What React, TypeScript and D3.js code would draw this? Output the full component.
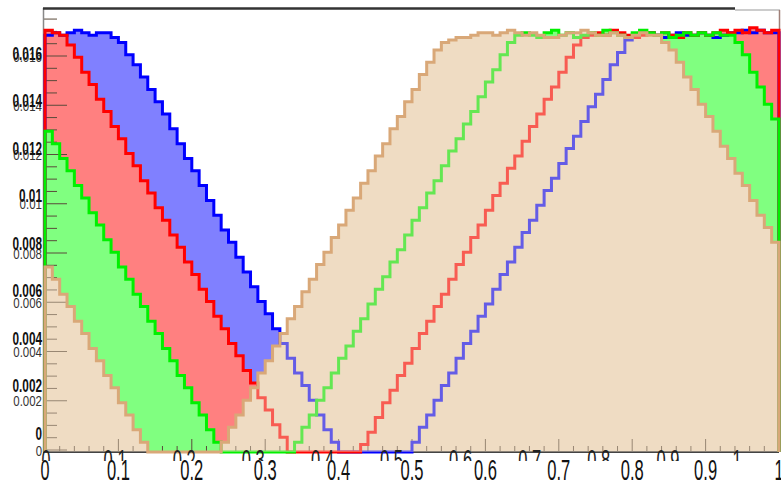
import React, { useEffect, useRef } from 'react'
import { select, scaleLinear, area, line, curveStepAfter, range } from 'd3'

// bin contents, 100 bins from 0 to 1
const blueBins = [
  0.0169, 0.0170, 0.0169, 0.0170, 0.0171, 0.0170, 0.0169, 0.0170, 0.0170, 0.0168,
  0.0166, 0.0161, 0.0157, 0.0152, 0.0147, 0.0142, 0.0137, 0.0131, 0.0125, 0.0119,
  0.0114, 0.0108, 0.0102, 0.0096, 0.0090, 0.0085, 0.0079, 0.0073, 0.0067, 0.0061,
  0.0056, 0.0050, 0.0044, 0.0038, 0.0032, 0.0027, 0.0021, 0.0015, 0.0009, 0.0004,
  0, 0, 0, 0, 0, 0, 0, 0, 0, 0,
  0.0004, 0.0010, 0.0015, 0.0021, 0.0027, 0.0032, 0.0038, 0.0044, 0.0049, 0.0055,
  0.0060, 0.0066, 0.0072, 0.0077, 0.0083, 0.0089, 0.0094, 0.0100, 0.0106, 0.0111,
  0.0117, 0.0123, 0.0128, 0.0134, 0.0140, 0.0145, 0.0151, 0.0157, 0.0162, 0.0167,
  0.0169, 0.0170, 0.0170, 0.0169, 0.0168, 0.0169, 0.0170, 0.0169, 0.0169, 0.0170,
  0.0169, 0.0168, 0.0169, 0.0170, 0.0170, 0.0171, 0.0170, 0.0171, 0.0170, 0.0170
]
const redBins = [
  0.0171, 0.0170, 0.0169, 0.0165, 0.0160, 0.0154, 0.0149, 0.0143, 0.0138, 0.0132,
  0.0127, 0.0121, 0.0116, 0.0110, 0.0105, 0.0099, 0.0094, 0.0088, 0.0083, 0.0077,
  0.0072, 0.0066, 0.0061, 0.0055, 0.0050, 0.0044, 0.0039, 0.0033, 0.0028, 0.0022,
  0.0017, 0.0011, 0.0006, 0, 0, 0, 0, 0, 0, 0,
  0, 0, 0, 0.0003, 0.0008, 0.0014, 0.0020, 0.0025, 0.0031, 0.0036,
  0.0042, 0.0048, 0.0053, 0.0059, 0.0064, 0.0070, 0.0076, 0.0081, 0.0087, 0.0092,
  0.0098, 0.0104, 0.0109, 0.0115, 0.0120, 0.0126, 0.0132, 0.0137, 0.0143, 0.0148,
  0.0154, 0.0160, 0.0165, 0.0168, 0.0169, 0.0170, 0.0169, 0.0171, 0.0170, 0.0169,
  0.0168, 0.0169, 0.0170, 0.0169, 0.0170, 0.0169, 0.0168, 0.0170, 0.0169, 0.0170,
  0.0169, 0.0170, 0.0171, 0.0170, 0.0171, 0.0170, 0.0172, 0.0171, 0.0170, 0.0171
]
const greenBins = [
  0.0130, 0.0125, 0.0119, 0.0114, 0.0108, 0.0103, 0.0097, 0.0092, 0.0086, 0.0081,
  0.0075, 0.0070, 0.0064, 0.0059, 0.0053, 0.0048, 0.0042, 0.0037, 0.0031, 0.0026,
  0.0020, 0.0015, 0.0009, 0.0004, 0, 0, 0, 0, 0, 0,
  0, 0, 0, 0, 0.0004, 0.0010, 0.0015, 0.0021, 0.0026, 0.0032,
  0.0038, 0.0043, 0.0049, 0.0054, 0.0060, 0.0066, 0.0071, 0.0077, 0.0082, 0.0088,
  0.0094, 0.0099, 0.0105, 0.0110, 0.0116, 0.0122, 0.0127, 0.0133, 0.0138, 0.0144,
  0.0150, 0.0155, 0.0161, 0.0166, 0.0169, 0.0170, 0.0169, 0.0168, 0.0170, 0.0171,
  0.0169, 0.0170, 0.0168, 0.0169, 0.0170, 0.0169, 0.0171, 0.0170, 0.0169, 0.0168,
  0.0170, 0.0171, 0.0170, 0.0169, 0.0170, 0.0168, 0.0169, 0.0170, 0.0169, 0.0170,
  0.0169, 0.0170, 0.0169, 0.0169, 0.0166, 0.0161, 0.0154, 0.0148, 0.0141, 0.0135
]
const tanBins = [
  0.0075, 0.0070, 0.0064, 0.0059, 0.0053, 0.0048, 0.0042, 0.0037, 0.0031, 0.0026,
  0.0020, 0.0015, 0.0009, 0.0004, 0, 0, 0, 0, 0, 0,
  0, 0, 0, 0, 0.0004, 0.0010, 0.0015, 0.0021, 0.0026, 0.0032,
  0.0037, 0.0043, 0.0048, 0.0054, 0.0059, 0.0065, 0.0070, 0.0076, 0.0081, 0.0087,
  0.0092, 0.0098, 0.0103, 0.0109, 0.0114, 0.0120, 0.0125, 0.0131, 0.0136, 0.0142,
  0.0147, 0.0153, 0.0158, 0.0163, 0.0166, 0.0167, 0.0168, 0.0168, 0.0169, 0.0170,
  0.0170, 0.0169, 0.0170, 0.0171, 0.0170, 0.0169, 0.0170, 0.0169, 0.0168, 0.0168,
  0.0169, 0.0170, 0.0170, 0.0171, 0.0170, 0.0169, 0.0169, 0.0170, 0.0169, 0.0168,
  0.0169, 0.0170, 0.0169, 0.0169, 0.0166, 0.0163, 0.0158, 0.0152, 0.0147, 0.0141,
  0.0136, 0.0130, 0.0124, 0.0119, 0.0113, 0.0108, 0.0102, 0.0096, 0.0091, 0.0085
]

const xTickValues = [0, 0.1, 0.2, 0.3, 0.4, 0.5, 0.6, 0.7, 0.8, 0.9, 1]
const xTickLabels = ['0', '0.1', '0.2', '0.3', '0.4', '0.5', '0.6', '0.7', '0.8', '0.9', '1']
const yTickValues = [0, 0.002, 0.004, 0.006, 0.008, 0.01, 0.012, 0.014, 0.016]
const yTickLabels = ['0', '0.002', '0.004', '0.006', '0.008', '0.01', '0.012', '0.014', '0.016']

// squeezed label widths (the original font is very condensed)
const narrow = (s, digit, dot) => s.split('').reduce((w, c) => w + (c === '.' ? dot : digit), 0)

export default function App() {
  const ref = useRef(null)

  useEffect(() => {
    const svg = select(ref.current)
    svg.selectAll('*').remove()

    const x = scaleLinear().domain([0, 1]).range([45, 779])
    const y = scaleLinear().domain([0, 0.018]).range([452, 8])
    // the y labels are printed twice, slightly out of register
    const yA = scaleLinear().domain([0, 0.016]).range([433, 53])
    const yB = scaleLinear().domain([0, 0.016]).range([450, 56])
    const xGhost = scaleLinear().domain([0, 1]).range([46, 737])

    const toPoints = bins => {
      const w = 1 / bins.length
      const pts = bins.map((v, i) => [i * w, v])
      pts.push([1, bins[bins.length - 1]])
      return pts
    }
    const fillArea = area().curve(curveStepAfter).x(d => x(d[0])).y0(y(0)).y1(d => y(d[1]))
    const outline = line().curve(curveStepAfter).x(d => x(d[0])).y(d => y(d[1]))
    const outlinePts = bins => [[0, 0], ...toPoints(bins), [1, 0]]

    const hists = [
      { bins: blueBins, fill: '#8080ff', stroke: '#0000ff' },
      { bins: redBins, fill: '#ff8080', stroke: '#ff0000' },
      { bins: greenBins, fill: '#80ff80', stroke: '#00f000' },
      { bins: tanBins, fill: '#efdcc3', stroke: '#d9a878' }
    ]

    svg.append('rect').attr('width', 781).attr('height', 483).attr('fill', 'white')

    const g = svg.append('g')

    hists.forEach(h => {
      g.append('path').datum(toPoints(h.bins)).attr('fill', h.fill).attr('d', fillArea)
    })

    // y axis ticks
    range(0, 0.01801, 0.0005).forEach(v => {
      const major = Math.abs(v / 0.002 - Math.round(v / 0.002)) < 1e-6
      const yy = yB(v)
      if (yy < 9) return
      g.append('line')
        .attr('x1', 44).attr('x2', major ? 67 : 57)
        .attr('y1', yy).attr('y2', yy)
        .attr('stroke', '#5a4a3a').attr('stroke-width', 1)
    })
    // x axis ticks
    range(0, 1.0001, 0.02).forEach(v => {
      const major = Math.abs(v * 10 - Math.round(v * 10)) < 1e-6
      g.append('line')
        .attr('x1', x(v)).attr('x2', x(v))
        .attr('y1', 452).attr('y2', major ? 439 : 446)
        .attr('stroke', '#5a4a3a').attr('stroke-width', 1)
    })

    // axis lines and frame
    g.append('line').attr('x1', 43).attr('x2', 779).attr('y1', 452).attr('y2', 452)
      .attr('stroke', '#444').attr('stroke-width', 2)
    g.append('line').attr('x1', 43.5).attr('x2', 43.5).attr('y1', 8).attr('y2', 452)
      .attr('stroke', '#888').attr('stroke-width', 1.5)
    g.append('line').attr('x1', 43).attr('x2', 735).attr('y1', 8.5).attr('y2', 8.5)
      .attr('stroke', '#333').attr('stroke-width', 2.5)
    g.append('line').attr('x1', 735).attr('x2', 780).attr('y1', 10).attr('y2', 10)
      .attr('stroke', '#999').attr('stroke-width', 1)
    g.append('line').attr('x1', 779.5).attr('x2', 779.5).attr('y1', 10).attr('y2', 452)
      .attr('stroke', '#a08078').attr('stroke-width', 1.5)

    // outlines of the first three, then tan on top (tan wash mutes the lines under it)
    hists.slice(0, 3).forEach(h => {
      g.append('path').datum(outlinePts(h.bins))
        .attr('fill', 'none').attr('stroke', h.stroke).attr('stroke-width', 3)
        .attr('d', outline)
    })
    g.append('path').datum(toPoints(tanBins))
      .attr('fill', '#efdcc3').attr('opacity', 0.42).attr('d', fillArea)
    g.append('path').datum(outlinePts(tanBins))
      .attr('fill', 'none').attr('stroke', '#d9a878').attr('stroke-width', 3)
      .attr('d', outline)

    const font = '"Liberation Sans Narrow", "Liberation Sans", Arial, sans-serif'

    // ghost x labels, only their tops show
    svg.append('clipPath').attr('id', 'ghostclip')
      .append('rect').attr('x', 0).attr('y', 448).attr('width', 781).attr('height', 13)
    const ghost = svg.append('g').attr('clip-path', 'url(#ghostclip)')
    xTickValues.forEach((v, i) => {
      const s = xTickLabels[i]
      const w = narrow(s, 9, 5)
      ghost.append('text')
        .attr('x', xGhost(v) - w / 2).attr('y', 470)
        .attr('textLength', w).attr('lengthAdjust', 'spacingAndGlyphs')
        .attr('font-family', font).attr('font-size', 29).attr('fill', '#222')
        .text(s)
    })

    // main x labels
    xTickValues.forEach((v, i) => {
      const s = xTickLabels[i]
      const w = narrow(s, 9, 5)
      svg.append('text')
        .attr('x', x(v) - w / 2).attr('y', 480)
        .attr('textLength', w).attr('lengthAdjust', 'spacingAndGlyphs')
        .attr('font-family', font).attr('font-size', 29).attr('fill', '#111')
        .text(s)
    })

    // y labels, light copy then bold copy
    yTickValues.forEach((v, i) => {
      const s = yTickLabels[i]
      const w = narrow(s, 6.3, 3.5)
      svg.append('text')
        .attr('x', 42 - w).attr('y', yB(v) + 5.5)
        .attr('textLength', w).attr('lengthAdjust', 'spacingAndGlyphs')
        .attr('font-family', font).attr('font-size', 15).attr('fill', '#333')
        .text(s)
    })
    yTickValues.forEach((v, i) => {
      const s = yTickLabels[i]
      const w = narrow(s, 6.5, 3.5)
      svg.append('text')
        .attr('x', 42 - w).attr('y', yA(v) + 6.5)
        .attr('textLength', w).attr('lengthAdjust', 'spacingAndGlyphs')
        .attr('font-family', font).attr('font-size', 18).attr('font-weight', 'bold')
        .attr('fill', '#111')
        .text(s)
    })
  }, [])

  return (
    <svg
      ref={ref}
      width={781}
      height={483}
      style={{ position: 'absolute', left: 0, top: 0 }}
    />
  )
}
